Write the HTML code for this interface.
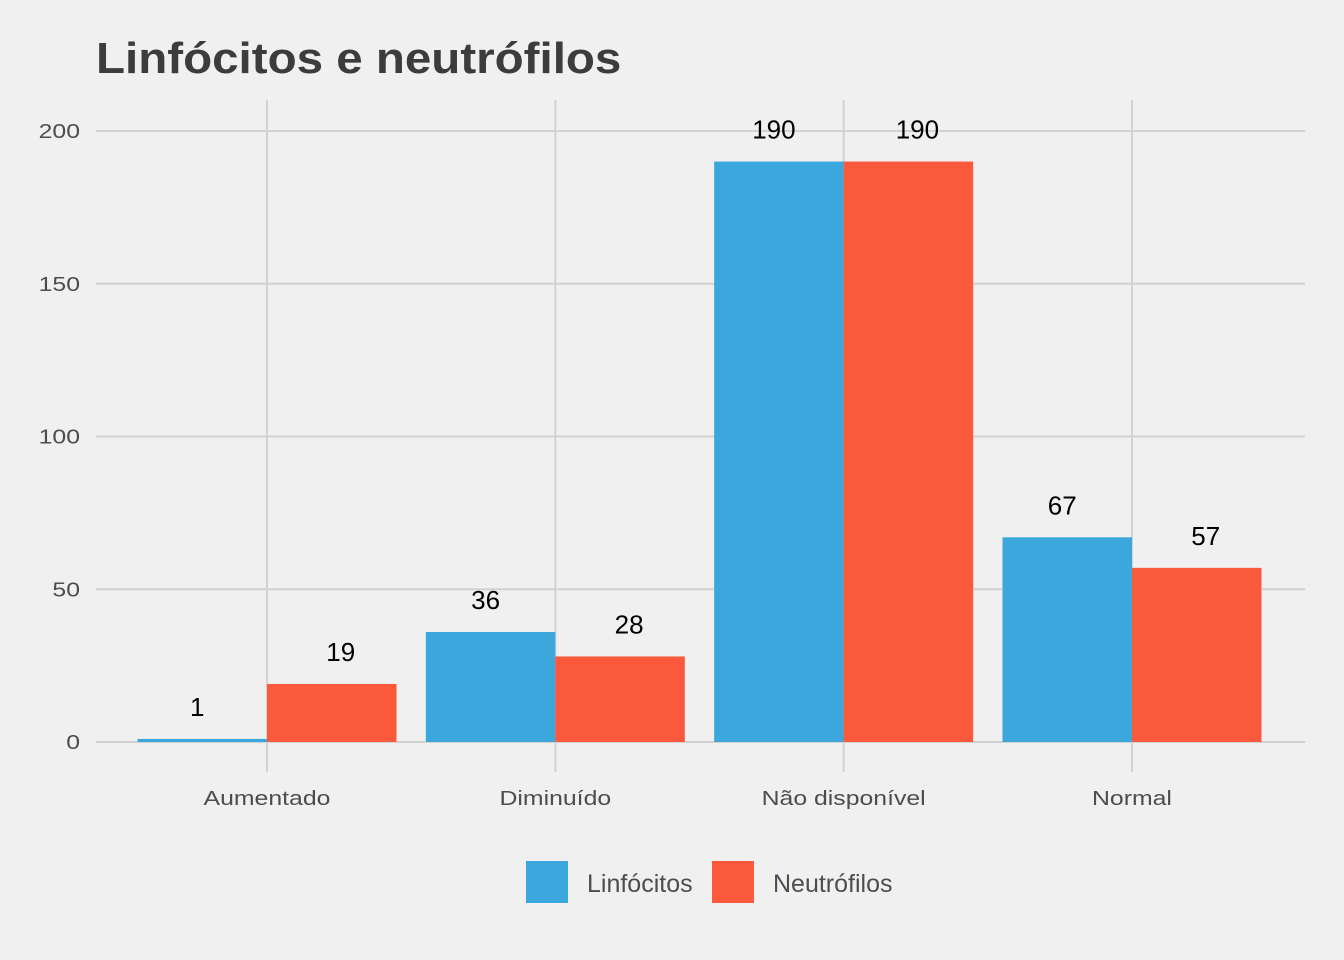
<!DOCTYPE html>
<html><head><meta charset="utf-8"><style>
body{margin:0;background:#f0f0f0;}
svg{display:block;font-family:"Liberation Sans",sans-serif;}
</style></head><body>
<svg id="chart" width="1344" height="960">
<rect width="1344" height="960" fill="#f0f0f0"/>
<text id="title" x="96" y="73" font-size="44" font-weight="bold" fill="#3c3c3c">Linfócitos e neutrófilos</text>
<g id="grid"></g><g id="bars"></g><g id="labels"></g><g id="axis"></g>
<g>
<rect x="526" y="861" width="42" height="42" fill="#3ca7dc"/>
<text x="587" y="892" font-size="25" fill="#4d4d4d">Linfócitos</text>
<rect x="712" y="861" width="42" height="42" fill="#fb593c"/>
<text x="773" y="892" font-size="25" fill="#4d4d4d">Neutrófilos</text>
</g>
</svg>
<script>
const categories=["Aumentado","Diminuído","Não disponível","Normal"];
const linfocitos=[1,36,190,67];
const neutrofilos=[19,28,190,57];
const yTicks=[0,50,100,150,200];
const NS="http://www.w3.org/2000/svg";
const y=v=>742-v*(742-131)/200;
const xc=i=>267+i*288.33;
const bw=129.5;
function mk(tag,attrs,parent,text){const e=document.createElementNS(NS,tag);for(const k in attrs)e.setAttribute(k,attrs[k]);if(text!==undefined)e.textContent=text;document.getElementById(parent).appendChild(e);return e;}
function stretch(el,r){const w=el.getComputedTextLength();el.setAttribute('textLength',w*r);el.setAttribute('lengthAdjust','spacingAndGlyphs');}
stretch(document.getElementById('title'),1.08);
yTicks.forEach(t=>{
 const l=mk('line',{x1:96,x2:1305,y1:y(t),y2:y(t),stroke:'#d2d2d2','stroke-width':2},'grid');
 
 
 const tx=mk('text',{x:80,y:y(t)+7,'font-size':20,fill:'#4d4d4d','text-anchor':'end'},'axis',t);
 
 
 stretch(tx,1.24);
});
categories.forEach((c,i)=>{
 const l=mk('line',{x1:xc(i),x2:xc(i),y1:100,y2:772,stroke:'#d2d2d2','stroke-width':2},'grid');
 
 
 const tx=mk('text',{x:xc(i),y:805,'font-size':20,fill:'#4d4d4d','text-anchor':'middle'},'axis',c);
 
 
 stretch(tx,1.24);
 [[linfocitos,'#3ca7dc',-1,'linfocitos',-5],[neutrofilos,'#fb593c',0,'neutrofilos',9]].forEach(([arr,col,off,nm,dx])=>{
  const v=arr[i];const x0=xc(i)+off*bw;
  const r=mk('rect',{x:x0,y:y(v),width:bw,height:y(0)-y(v),fill:col},'bars');
  
  
  const t=mk('text',{x:x0+bw/2+dx,y:y(v)-23,'font-size':26,fill:'#000','text-anchor':'middle'},'labels',v);
  
  
 });
});
</script>
</body></html>
